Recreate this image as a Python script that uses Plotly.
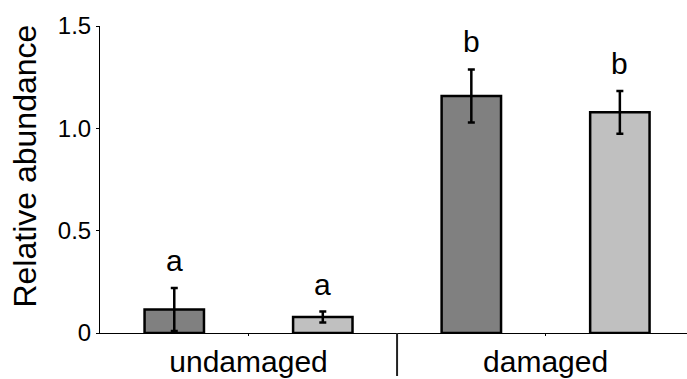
import plotly.graph_objects as go

# Relative abundance per treatment, two series per treatment
categories = ["undamaged", "damaged"]
series_a = [0.115, 1.158]
series_a_err = [0.105, 0.13]
series_b = [0.078, 1.078]
series_b_err = [0.027, 0.105]
letters_a = ["a", "b"]
letters_b = ["a", "b"]

ytick_vals = [0, 0.5, 1.0, 1.5]
ytick_text = ["0", "0.5", "1.0", "1.5"]
y_title = "Relative abundance"

FONT = "Liberation Sans, Arial, sans-serif"

fig = go.Figure()

for name, vals, errs, color in [
    ("A", series_a, series_a_err, "#808080"),
    ("B", series_b, series_b_err, "#c0c0c0"),
]:
    fig.add_trace(go.Bar(
        x=categories, y=vals, name=name, offsetgroup=name,
        marker=dict(color=color, line=dict(color="black", width=2.5)),
        error_y=dict(type="data", array=errs, visible=True,
                     color="black", thickness=2.5, width=3.5),
    ))

# significance letters above each bar's error bar
for i, cat in enumerate(categories):
    for k, (vals, errs, letters) in enumerate([
        (series_a, series_a_err, letters_a),
        (series_b, series_b_err, letters_b),
    ]):
        fig.add_annotation(
            x=i + (-0.25 if k == 0 else 0.25), y=vals[i] + errs[i],
            xref="x", yref="y", text=letters[i], showarrow=False,
            yanchor="bottom", yshift=9,
            font=dict(family=FONT, size=30, color="black"),
        )

# vertical y-axis title, set slightly above the axis midpoint
fig.add_annotation(
    x=-0.128, y=0.545, xref="paper", yref="paper",
    text=y_title, textangle=-90, showarrow=False,
    xanchor="center", yanchor="middle",
    font=dict(family=FONT, size=32, color="black"),
)

# separator between the two treatment groups
fig.add_shape(type="line", xref="x", yref="paper",
              x0=0.5, x1=0.5, y0=0, y1=-0.14,
              line=dict(color="#222222", width=2))

fig.update_layout(
    width=687, height=379,
    margin=dict(l=100, r=0, t=26, b=46),
    paper_bgcolor="white", plot_bgcolor="white",
    showlegend=False,
    barmode="group", bargap=0, bargroupgap=0.6,
    font=dict(family=FONT, color="black"),
)
fig.update_xaxes(
    type="category", range=[-0.5, 1.476], automargin=False,
    showline=True, linecolor="black", linewidth=1,
    ticks="outside", ticklen=2, tickcolor="black",
    ticklabelstandoff=0,
    tickfont=dict(family=FONT, size=30, color="black"),
    showgrid=False, zeroline=False,
)
fig.update_yaxes(
    range=[0, 1.5], tickvals=ytick_vals, ticktext=ytick_text,
    automargin=False,
    showline=True, linecolor="black", linewidth=1,
    ticks="outside", ticklen=3, tickcolor="black",
    tickfont=dict(family=FONT, size=24, color="black"),
    showgrid=False, zeroline=False,
)

fig.write_html("out.html")
